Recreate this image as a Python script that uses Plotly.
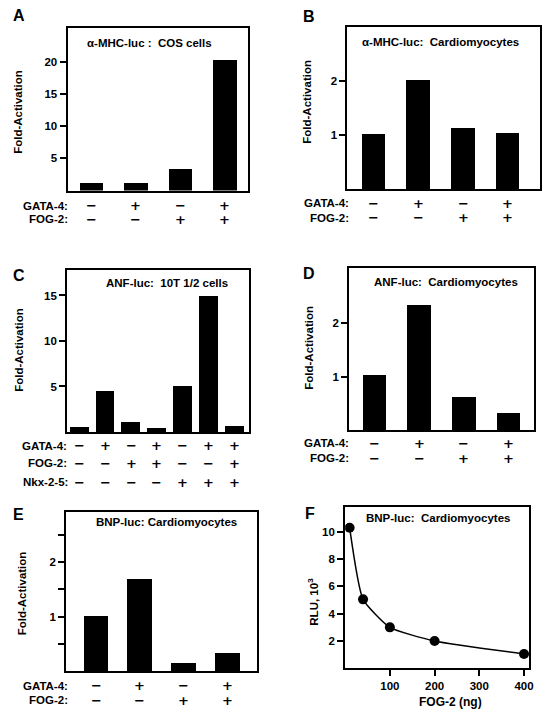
import plotly.graph_objects as go

# ---------------- data ----------------
a_vals = [1.1, 1.1, 3.3, 20.2]
b_vals = [1.01, 2.01, 1.12, 1.03]
c_vals = [0.55, 4.5, 1.07, 0.4, 5.0, 14.95, 0.66]
d_vals = [1.02, 2.33, 0.62, 0.32]
e_vals = [1.02, 1.69, 0.16, 0.34]
f_x = [10, 40, 100, 200, 400]
f_y = [10.3, 5.05, 3.0, 2.0, 1.05]

gata4_4 = ["−", "+", "−", "+"]
fog2_4 = ["−", "−", "+", "+"]
c_gata4 = ["−", "+", "−", "+", "−", "+", "+"]
c_fog2 = ["−", "−", "+", "+", "−", "−", "+"]
c_nkx = ["−", "−", "−", "−", "+", "+", "+"]

titles = {
    "A": "α-MHC-luc :\u00a0\u00a0COS cells",
    "B": "α-MHC-luc:\u00a0\u00a0Cardiomyocytes",
    "C": "ANF-luc:\u00a0\u00a010T 1/2 cells",
    "D": "ANF-luc:\u00a0\u00a0Cardiomyocytes",
    "E": "BNP-luc: Cardiomyocytes",
    "F": "BNP-luc:\u00a0\u00a0Cardiomyocytes",
}

W, H = 547, 712
FONT = "Liberation Sans, Arial, sans-serif"
SIGN_FONT = "DejaVu Sans, Liberation Sans, sans-serif"


def fx(v):
    return v / W


def fy(v):
    return 1 - v / H


fig = go.Figure()
annotations = []


def axis_common():
    return dict(showline=True, linecolor="black", linewidth=2, mirror=True,
                showgrid=False, zeroline=False, fixedrange=True,
                tickfont=dict(family=FONT, size=11.5, color="black", weight="bold"))


def add_bar_panel(idx, vals, box, xr, yr, width, ytickvals, minor_vals=None):
    x0, x1, y0, y1 = box
    xs = list(range(len(vals)))
    fig.add_trace(go.Bar(x=xs, y=vals, width=width, marker=dict(color="black", line=dict(width=0)),
                         xaxis=f"x{idx}", yaxis=f"y{idx}", showlegend=False, hoverinfo="skip"))
    xa = axis_common()
    xa.update(domain=[fx(x0), fx(x1)], range=xr, showticklabels=False, ticks="",
              anchor=f"y{idx}")
    ya = axis_common()
    ya.update(domain=[fy(y1), fy(y0)], range=yr, ticks="outside", ticklen=6, tickwidth=1.5,
              tickcolor="black", tickvals=ytickvals, anchor=f"x{idx}")
    if minor_vals:
        ya["minor"] = dict(tickvals=minor_vals, ticks="outside", ticklen=6, tickwidth=1.5,
                           tickcolor="black", showgrid=False)
    fig.layout[f"xaxis{idx}"] = xa
    fig.layout[f"yaxis{idx}"] = ya


def text(x, y, s, size=11.5, xanchor="center", xref="paper", angle=0, family=FONT):
    annotations.append(dict(x=x if xref != "paper" else fx(x), y=fy(y), xref=xref, yref="paper",
                            text=s, showarrow=False, xanchor=xanchor, yanchor="middle",
                            textangle=angle, borderpad=0,
                            font=dict(family=family, size=size, color="black", weight="bold")))


def signs(idx, row, y):
    for i, s in enumerate(row):
        text(i, y, s, size=13, xref=f"x{idx}", family=SIGN_FONT)


# Panel A
add_bar_panel(1, a_vals, (68, 250, 28, 190.5), [-0.53, 3.53], [0, 25.2], 0.53, [5, 10, 15, 20])
# Panel B
add_bar_panel(2, b_vals, (350, 544, 27.3, 189), [-0.59, 3.72], [0, 3.0], 0.53, [1, 2])
# Panel C
add_bar_panel(3, c_vals, (67.7, 250.7, 270, 432), [-0.47, 6.56], [0, 17.8], 0.73, [5, 10, 15])
# Panel D
add_bar_panel(4, d_vals, (351.7, 538.3, 268.3, 430), [-0.57, 3.58], [0, 3.03], 0.53, [1, 2])
# Panel E
add_bar_panel(5, e_vals, (66.7, 259.3, 511.7, 671), [-0.68, 3.68], [0, 2.93], 0.56, [1, 2],
              minor_vals=[0.5, 1.5, 2.5])

# Panel F
fig.add_trace(go.Scatter(x=f_x, y=f_y, mode="lines+markers",
                         line=dict(color="black", width=1.5, shape="spline", smoothing=0.5),
                         marker=dict(color="black", size=10), xaxis="x6", yaxis="y6",
                         showlegend=False, hoverinfo="skip"))
xa6 = axis_common()
xa6.update(domain=[fx(347.7), fx(533.3)], range=[0, 412], ticks="outside", ticklen=6, tickwidth=1.5,
           tickcolor="black", tickvals=[100, 200, 300, 400], anchor="y6")
ya6 = axis_common()
ya6.update(domain=[fy(668.3), fy(506.7)], range=[0, 11.84], ticks="outside", ticklen=6, tickwidth=1.5,
           tickcolor="black", tickvals=[2, 4, 6, 8, 10], anchor="x6")
fig.layout["xaxis6"] = xa6
fig.layout["yaxis6"] = ya6

# Panel letters
text(12, 15, "A", size=16, xanchor="left")
text(304, 17, "B", size=16, xanchor="left")
text(12, 275, "C", size=16, xanchor="left")
text(304, 273, "D", size=16, xanchor="left")
text(12, 514.5, "E", size=16, xanchor="left")
text(306, 513, "F", size=16, xanchor="left")

# Panel titles
text(150.5, 42.7, titles["A"])
text(444, 41.7, titles["B"])
text(168.3, 283.3, titles["C"])
text(449, 281.7, titles["D"])
text(167.5, 521.7, titles["E"])
text(441, 518.3, titles["F"])

# Y axis titles
text(18, 112, "Fold-Activation", angle=-90)
text(309, 102, "Fold-Activation", angle=-90)
text(19, 350, "Fold-Activation", angle=-90)
text(311, 348, "Fold-Activation", angle=-90)
text(22.5, 593, "Fold-Activation", angle=-90)
text(315, 602, "RLU, 10<sup>3</sup>", angle=-90)

# X axis title F
text(454, 701.7, "FOG-2 (ng)", size=12)

# Row labels and signs
RL = 11.5
text(70, 205.7, "GATA-4:", size=RL, xanchor="right")
text(70, 219.3, "FOG-2:", size=RL, xanchor="right")
signs(1, gata4_4, 205.7)
signs(1, fog2_4, 219.3)

text(353, 203.3, "GATA-4:", size=RL, xanchor="right")
text(353, 217.7, "FOG-2:", size=RL, xanchor="right")
signs(2, gata4_4, 203.3)
signs(2, fog2_4, 217.7)

text(68.5, 445.5, "GATA-4:", size=RL, xanchor="right")
text(68.5, 463, "FOG-2:", size=RL, xanchor="right")
text(70, 482, "Nkx-2-5:", size=RL, xanchor="right")
signs(3, c_gata4, 445.5)
signs(3, c_fog2, 463)
signs(3, c_nkx, 482)

text(353, 443.3, "GATA-4:", size=RL, xanchor="right")
text(353, 458.3, "FOG-2:", size=RL, xanchor="right")
signs(4, gata4_4, 443.3)
signs(4, fog2_4, 458.3)

text(70, 685.7, "GATA-4:", size=RL, xanchor="right")
text(70, 700, "FOG-2:", size=RL, xanchor="right")
signs(5, gata4_4, 685.7)
signs(5, fog2_4, 700)

fig.update_layout(width=W, height=H, margin=dict(l=0, r=0, t=0, b=0),
                  paper_bgcolor="white", plot_bgcolor="white",
                  font=dict(family=FONT, size=11.5, color="black", weight="bold"),
                  annotations=annotations, bargap=0)

fig.write_html("out.html", config={"displayModeBar": False},
               post_script="document.body.style.margin='0';document.body.style.padding='0';")
